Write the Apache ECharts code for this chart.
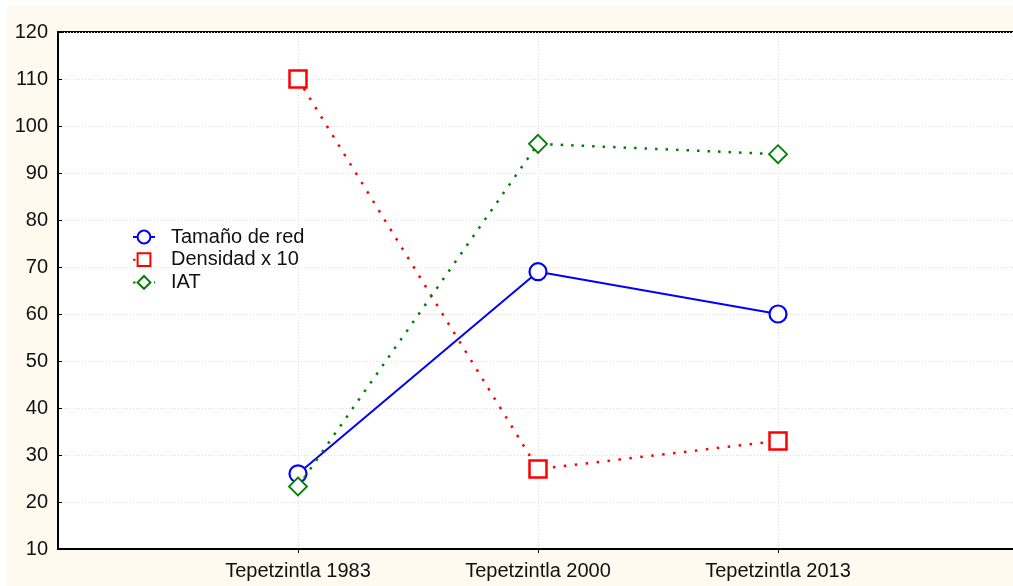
<!DOCTYPE html>
<html><head><meta charset="utf-8">
<script src="https://cdn.jsdelivr.net/npm/echarts@6/dist/echarts.min.js"></script>
<style>
html,body{margin:0;padding:0;background:#fff;overflow:hidden;width:1013px;height:586px;}
#wrap{position:absolute;left:7px;top:6px;width:1006px;height:580px;overflow:hidden;background:#fefaef;}
#c{position:absolute;left:0;top:0;width:1040px;height:580px;}
</style></head><body>
<div id="wrap"><div id="c"></div></div>
<script>
const categories = ["", "Tepetzintla 1983", "Tepetzintla 2000", "Tepetzintla 2013", ""];
const tamanoDeRed = [null, 26, 69, 60, null];
const densidadX10 = [null, 110, 27, 33, null];
const iat = [null, 23.3, 96.2, 94, null];
const yTicks = {min: 10, max: 120, interval: 10};

const chart = echarts.init(document.getElementById('c'), null, {renderer: 'canvas'});
const font = 'Liberation Sans, Arial, sans-serif';
chart.setOption({
  backgroundColor: 'transparent',
  animation: false,
  textStyle: {fontFamily: font},
  grid: {left: 51, top: 26, width: 960, bottom: 37, show: true, backgroundColor: '#fff', borderColor: '#000', borderWidth: 2},
  legend: {
    orient: 'vertical', left: 125, top: 221, padding: 0, itemWidth: 22, itemHeight: 16, itemGap: 2.7,
    textStyle: {fontSize: 20, color: '#111', fontFamily: font, lineHeight: 20, padding: [0, 0, 0, 11]},
    data: ['Tamaño de red', 'Densidad x 10', 'IAT']
  },
  xAxis: {
    type: 'category', data: categories, boundaryGap: false,
    axisLine: {lineStyle: {color: '#000', width: 2}},
    axisTick: {show: true, length: 4, lineStyle: {color: '#000'}, interval: (i) => i > 0 && i < 4},
    axisLabel: {fontSize: 20, color: '#111', margin: 12, interval: 0, fontFamily: font},
    splitLine: {show: true, interval: (i) => i > 0 && i < 4, lineStyle: {color: '#ddd', type: [1, 2], width: 1}}
  },
  yAxis: {
    type: 'value', min: yTicks.min, max: yTicks.max, interval: yTicks.interval,
    axisLine: {show: true, lineStyle: {color: '#000', width: 2}},
    axisTick: {show: true, length: 4, inside: true, lineStyle: {color: '#000'}},
    axisLabel: {fontSize: 20, color: '#111', margin: 10, fontFamily: font},
    splitLine: {show: true, lineStyle: {color: '#ddd', type: [1, 2], width: 1}}
  },
  series: [
    {name: 'Tamaño de red', type: 'line', data: tamanoDeRed,
     symbol: 'circle', symbolSize: 17,
     lineStyle: {color: '#0000ff', width: 2},
     itemStyle: {color: '#fff', borderColor: '#0000ff', borderWidth: 2.2}, z: 3},
    {name: 'Densidad x 10', type: 'line', data: densidadX10,
     symbol: 'rect', symbolSize: 17,
     lineStyle: {color: '#ff0000', width: 2.5, type: [2.5, 8.5], cap: 'butt'},
     itemStyle: {color: '#fff', borderColor: '#ff0000', borderWidth: 2.5}, z: 2},
    {name: 'IAT', type: 'line', data: iat,
     symbol: 'diamond', symbolSize: 18,
     lineStyle: {color: '#008000', width: 2.5, type: [2.5, 8], cap: 'butt'},
     itemStyle: {color: '#fff', borderColor: '#008000', borderWidth: 1.8}, z: 4}
  ]
});
</script>
</body></html>
